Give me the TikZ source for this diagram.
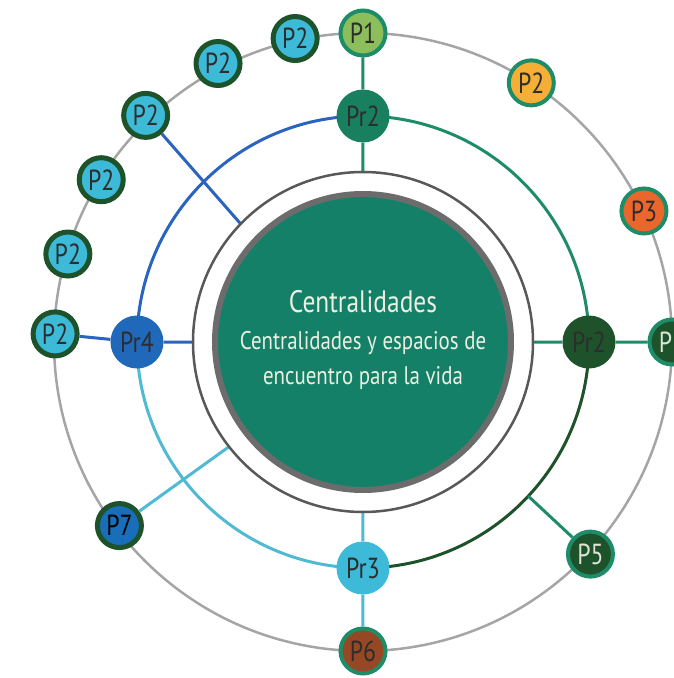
\documentclass[tikz,border=0pt]{standalone}
\usepackage{fontspec}
\newfontfamily\myriad[FakeStretch=0.82]{PT Sans}
\definecolor{tealg}{RGB}{30,140,105}
\definecolor{prteal}{RGB}{25,128,95}
\definecolor{darkg}{RGB}{30,82,42}
\definecolor{skyc}{RGB}{60,186,215}
\definecolor{skyline}{RGB}{80,185,212}
\definecolor{royalb}{RGB}{32,104,186}
\definecolor{blueline}{RGB}{42,100,190}
\definecolor{lightg}{RGB}{140,190,92}
\definecolor{amber}{RGB}{245,175,55}
\definecolor{rust}{RGB}{234,102,42}
\definecolor{brownp}{RGB}{150,72,36}
\definecolor{ocean}{RGB}{25,110,185}
\definecolor{maingreen}{RGB}{20,128,104}
\definecolor{bordergrey}{RGB}{108,108,108}
\definecolor{ringgrey}{RGB}{88,88,88}
\definecolor{outergrey}{RGB}{165,165,165}
\definecolor{labeltext}{RGB}{45,45,45}
\definecolor{paletext}{RGB}{222,228,214}
\definecolor{cream}{RGB}{236,240,226}

\begin{document}
\begin{tikzpicture}[x=1pt, y=1pt,
    lbl/.style          = {circle, inner sep=0pt, text=labeltext,
                           font=\myriad\fontsize{29}{29}\selectfont},
    pv/.style           = {lbl, draw=tealg, line width=4pt, minimum size=45pt},
    cv/.style           = {lbl, draw=darkg, line width=5pt, minimum size=44pt, fill=skyc},
    prv/.style          = {lbl, minimum size=53pt},
    link/.style         = {line width=3pt},
    centretext/.style   = {text=cream, inner sep=0pt, font=\myriad\fontsize{25.5}{25.5}\selectfont}
    ]
      \useasboundingbox (-363,-336) rectangle (311,342);
      \clip (-363,-336) rectangle (311,342);

      % rings ----------------------------------------------------
      \draw[outergrey, line width=2.5pt] (0,0) circle[radius=309pt];
      \draw[link, blueline] (90:226pt) arc[start angle=90, end angle=180, radius=226pt];
      \draw[link, tealg]    (0:226pt)  arc[start angle=0, end angle=90, radius=226pt];
      \draw[link, darkg]    (-90:226pt) arc[start angle=-90, end angle=0, radius=226pt];
      \draw[link, skyline]  (180:226pt) arc[start angle=180, end angle=270, radius=226pt];

      % ring points ----------------------------------------------
      \coordinate (in-n)  at (90:170pt);
      \coordinate (in-e)  at (0:170pt);
      \coordinate (in-s)  at (-90:170pt);
      \coordinate (in-w)  at (180:170pt);
      \coordinate (in-nw) at (136:170pt);
      \coordinate (in-sw) at (218:170pt);
      \coordinate (mid-se) at (-43:226pt);

      % vertices -------------------------------------------------
      \node[prv, fill=prteal]   (prN) at (90:226pt)  {Pr2};
      \node[prv, fill=darkg]    (prE) at (0:226pt)   {Pr2};
      \node[prv, fill=skyc]     (prS) at (-90:226pt) {Pr3};
      \node[prv, fill=royalb]   (prW) at (180:226pt) {Pr4};

      \node[pv, fill=lightg]    (p1)  at (90:309pt)  {P1};
      \node[pv, fill=amber]     (p2o) at (57:309pt)  {P2};
      \node[pv, fill=rust]      (p3)  at (25:310pt)  {P3};
      \node[pv, fill=darkg, text=paletext] (p4) at (0:309pt) {P\phantom{4}};
      \node[pv, fill=darkg, text=paletext] (p5) at (-43:311pt) {P5};
      \node[pv, fill=brownp]    (p6)  at (-90:309pt) {P6};
      \node[lbl, draw=darkg, line width=5pt, minimum size=44pt, fill=ocean, text=black]
                                (p7)  at (217:305pt) {P7};

      \node[cv] (p2a) at (102.6:311pt) {P2};
      \node[cv] (p2b) at (117.5:314pt) {P2};
      \node[cv] (p2c) at (133.8:314pt) {P2};
      \node[cv] (p2d) at (148.2:308pt) {P2};
      \node[cv] (p2e) at (163.4:308pt) {P2};
      \node[cv] (p2f) at (178.5:308pt) {P2};

      % edges ----------------------------------------------------
      \draw[link, tealg] (p1) -- (prN)
            (prN) -- (in-n)
            (p4) -- (prE)
            (prE) -- (in-e)
            (p5) -- (mid-se);
      \draw[link, skyline] (p6) -- (prS)
            (prS) -- (in-s)
            (p7) -- (in-sw);
      \draw[link, blueline] (p2f) -- (prW)
            (prW) -- (in-w)
            (p2c) -- (in-nw);

      % centre ---------------------------------------------------
      \draw[ringgrey, line width=2.5pt, fill=white] (0,0) circle[radius=170pt];
      \draw[bordergrey, line width=6pt, fill=maingreen] (0,0) circle[radius=148pt];
      \node[centretext, font=\myriad\fontsize{31}{31}\selectfont] (title) at (0,40) {Centralidades};
      \node[centretext] (sub1) at (0,-1)  {Centralidades y espacios de};
      \node[centretext] (sub2) at (0,-36) {encuentro para la vida};
\end{tikzpicture}
\end{document}
